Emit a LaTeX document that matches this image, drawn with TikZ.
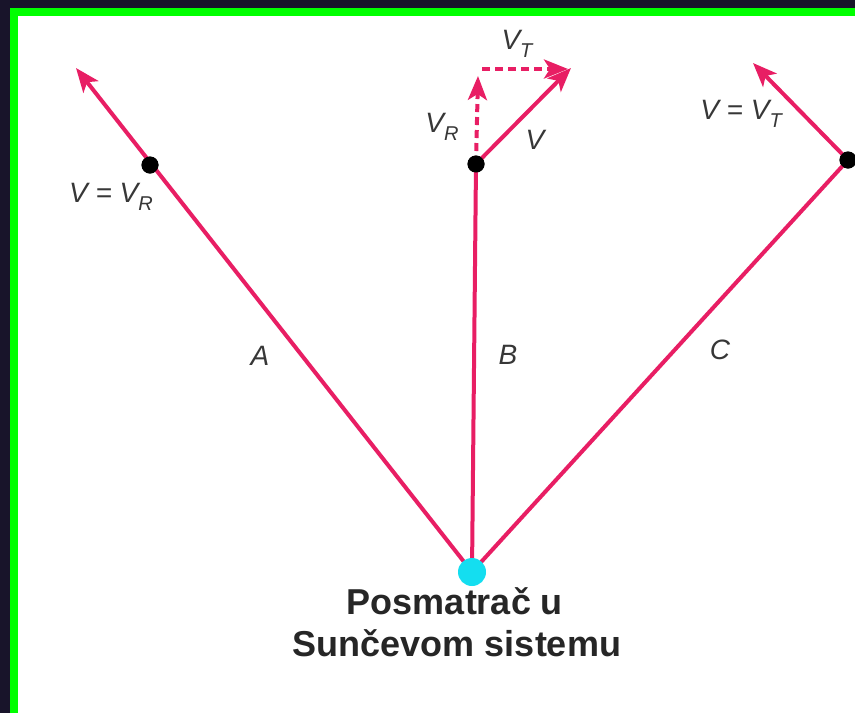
\documentclass[tikz,border=0pt]{standalone}
\usepackage{fontspec}
\setmainfont{Liberation Sans}
\usetikzlibrary{arrows.meta}
\definecolor{vec}{RGB}{232,30,100}
\definecolor{obsc}{RGB}{20,222,240}
\definecolor{bgdark}{RGB}{24,20,42}
\definecolor{framegreen}{RGB}{0,255,0}
\definecolor{txt}{RGB}{55,55,55}
\newcommand{\vsub}[1]{\raisebox{-0.28em}{\fontsize{20}{20}\selectfont #1}}
\begin{document}
\begin{tikzpicture}[x=1pt,y=-1pt,
  vecline/.style={draw=vec, line width=4pt},
  vecarrow/.style={vecline, -{Stealth[length=24pt,width=19pt,inset=6pt]}},
  dashvec/.style={vecarrow, dash pattern=on 8pt off 5pt},
  dotn/.style={circle, fill=black, inner sep=0pt, minimum size=17pt},
  lab/.style={text=txt, font=\fontsize{28}{28}\selectfont\itshape, inner sep=0pt},
  titletext/.style={text=black!85, font=\fontsize{36}{36}\selectfont\bfseries, inner sep=0pt, anchor=base}]
\useasboundingbox (0,0) rectangle (855,713);
% background and frame
\fill[bgdark] (0,0) rectangle (855,713);
\fill[framegreen] (10,8) rectangle (855,713);
\fill[white] (18,16) rectangle (855,713);
% points
\coordinate (obsp) at (472,572);
\node[dotn] (dA) at (150,165) {};
\node[dotn] (dB) at (476,164) {};
\node[dotn] (dC) at (848,160) {};
\coordinate (tipA) at (76,68);
\coordinate (tipVR) at (478,76);
\coordinate (cH) at (482,69);
\coordinate (tipVT) at (568,69);
\coordinate (tipV) at (571,68);
\coordinate (tipC) at (753,63);
% lines
\draw[vecarrow] (obsp) -- (tipA);
\draw[vecline] (obsp) -- (dB.center);
\draw[vecline] (obsp) -- (dC.center);
\draw[vecarrow] (dC.center) -- (tipC);
\draw[dashvec] (dB.center) -- (tipVR);
\draw[dashvec] (cH) -- (tipVT);
\draw[vecarrow] (dB.center) -- (tipV);
% dots on top
\node[dotn] at (dA) {};
\node[dotn] at (dB) {};
\node[dotn] at (dC) {};
\node[circle, fill=obsc, inner sep=0pt, minimum size=28pt] (obs) at (obsp) {};
% labels
\node[lab] (lVR) at (111,197) {V = V\vsub{R}};
\node[lab] (lA) at (260,356) {A};
\node[lab] (lB) at (508,355) {B};
\node[lab] (lC) at (720,350) {C};
\node[lab] (lR) at (442,127) {V\vsub{R}};
\node[lab] (lV) at (535,140) {V};
\node[lab] (lT) at (517,44) {V\vsub{T}};
\node[lab] (lVT) at (741,114) {V = V\vsub{T}};
\node[titletext] (t1) at (455,614) {Posmatrač u};
\node[titletext] (t2) at (457,656) {Sunčevom sistemu};
\end{tikzpicture}
\end{document}
